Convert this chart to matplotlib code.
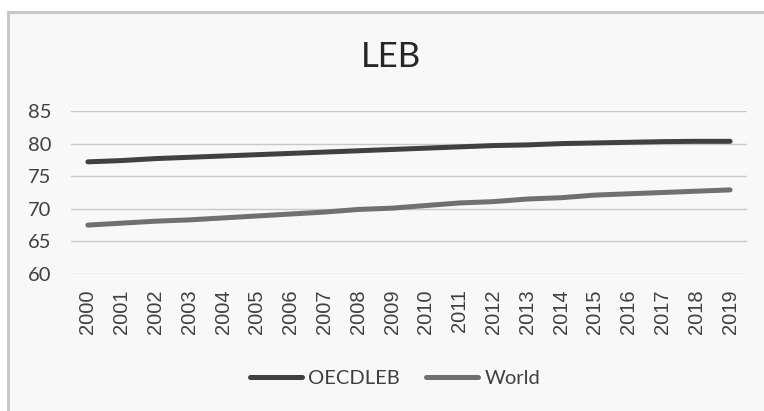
import matplotlib
matplotlib.use("Agg")
import matplotlib.pyplot as plt
from matplotlib.patches import Rectangle

years = [str(y) for y in range(2000, 2020)]
oecd_leb = [77.2, 77.4, 77.7, 77.9, 78.1, 78.3, 78.5, 78.7, 78.9, 79.1,
            79.3, 79.5, 79.7, 79.8, 80.0, 80.1, 80.2, 80.3, 80.35, 80.35]
world = [67.5, 67.8, 68.1, 68.3, 68.6, 68.9, 69.2, 69.5, 69.9, 70.1,
         70.5, 70.9, 71.1, 71.5, 71.7, 72.1, 72.3, 72.5, 72.7, 72.9]
yticks = [60, 65, 70, 75, 80, 85]

plt.rcParams['font.family'] = ['Lato', 'DejaVu Sans']

fig = plt.figure(figsize=(7.64, 4.11), dpi=100, facecolor='white')

# chart area frame (Excel style)
fig.patches.append(Rectangle((8 / 764, -0.05), 1.0, 1 - 12 / 411 + 0.05,
                             transform=fig.transFigure, facecolor='#f8f8f8',
                             edgecolor='#c8c8c8', linewidth=2.2, zorder=-10))

ax = fig.add_axes([71 / 764, 1 - 274 / 411, (747 - 71) / 764, (274 - 111) / 411])
ax.set_facecolor('none')
ax.set_zorder(1)

x = range(len(years))
ax.plot(x, oecd_leb, color='#404040', lw=3.6, solid_capstyle='round', label='OECDLEB')
ax.plot(x, world, color='#707070', lw=3.6, solid_capstyle='round', label='World')

ax.set_xlim(-0.5, len(years) - 0.5)
ax.set_ylim(60, 85)
ax.set_yticks(yticks)
ax.set_xticks(list(x))
ax.set_xticklabels(years, rotation=90, fontsize=14.5, family='Liberation Sans', color='#404040')
ax.tick_params(axis='x', length=0, pad=11)
ax.tick_params(axis='y', length=0, pad=14, labelsize=14.5, labelcolor='#404040')
ax.grid(axis='y', color='#c8c8c8', lw=1)
ax.set_axisbelow(True)
for s in ax.spines.values():
    s.set_visible(False)

fig.text(391 / 764, 1 - 57 / 411, 'LEB', ha='center', va='center', fontsize=25, color='#262626')

fig.legend(loc='center', bbox_to_anchor=(395 / 764, 1 - 378 / 411), ncol=2, frameon=False,
           fontsize=14.5, handlelength=2.6, handletextpad=0.3, columnspacing=1.3,
           labelcolor='#404040')

fig.savefig('out.png', dpi=100, facecolor='white')
